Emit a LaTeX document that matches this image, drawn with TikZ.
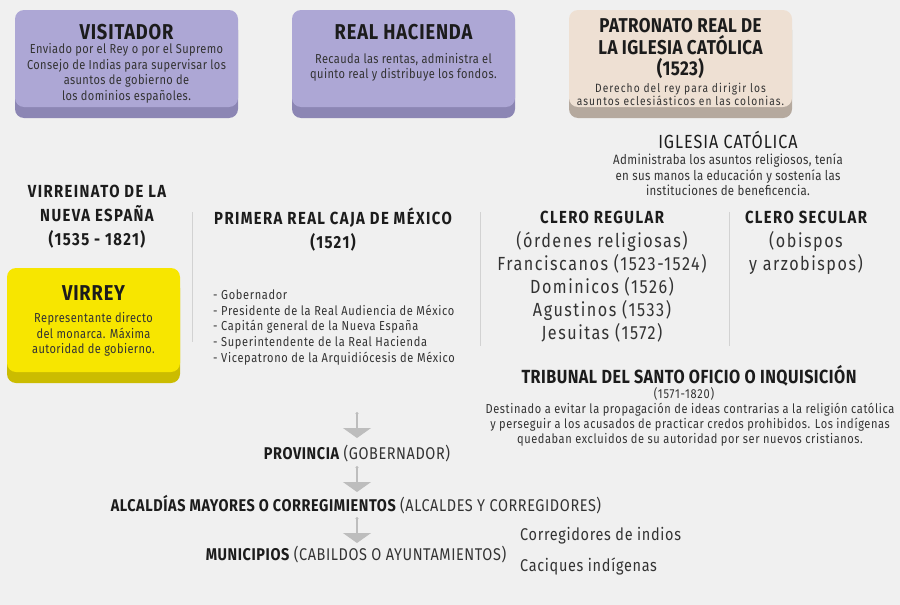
\documentclass[tikz,border=0pt]{standalone}
\usepackage{fontspec}
\setmainfont{Fira Sans}[FakeStretch=0.85]
\usetikzlibrary{shadows,arrows.meta}
\definecolor{bgc}{HTML}{F0F0F0}
\definecolor{lav}{HTML}{ADA7D5}
\definecolor{lavdk}{HTML}{8C86B4}
\definecolor{beige}{HTML}{EEE0D3}
\definecolor{beigedk}{HTML}{B5A99E}
\definecolor{yel}{HTML}{F7E600}
\definecolor{yeldk}{HTML}{CBBC00}
\definecolor{ink}{HTML}{1C1C1C}
\definecolor{txt}{HTML}{333333}
\definecolor{sep}{HTML}{D2D2D2}
\definecolor{arr}{HTML}{BDBDBD}
\newcommand\fBoxTtl{\fontsize{21.5}{22}\selectfont\bfseries\addfontfeature{LetterSpace=4}}
\newcommand\fPatTtl{\fontsize{20}{21.5}\selectfont\bfseries\addfontfeature{LetterSpace=2}}
\newcommand\fHead{\fontsize{17.5}{24}\selectfont\bfseries\addfontfeature{LetterSpace=8}}
\newcommand\fBody{\fontsize{13}{15.5}\selectfont\addfontfeature{LetterSpace=3}}
\newcommand\fPatBody{\fontsize{12}{13}\selectfont\addfontfeature{LetterSpace=9}}
\newcommand\fIgT{\fontsize{19}{20}\selectfont\addfontfeature{LetterSpace=5}}
\newcommand\fIgB{\fontsize{13.5}{15.5}\selectfont\addfontfeature{LetterSpace=2.5}}
\newcommand\fList{\fontsize{13}{15.75}\selectfont\addfontfeature{LetterSpace=5}}
\newcommand\fBig{\fontsize{19}{23}\selectfont\addfontfeature{LetterSpace=8}}
\newcommand\fTrT{\fontsize{19}{20}\selectfont\bfseries\addfontfeature{LetterSpace=2.5}}
\newcommand\fTrD{\fontsize{13}{14}\selectfont\addfontfeature{LetterSpace=6}}
\newcommand\fTrB{\fontsize{13}{15}\selectfont\addfontfeature{LetterSpace=4.5}}
\newcommand\fBot{\fontsize{17}{18}\selectfont\addfontfeature{LetterSpace=3.5}}
\newcommand\fSide{\fontsize{17}{18}\selectfont\addfontfeature{LetterSpace=4}}
\tikzset{
  card/.style={rounded corners=9pt, inner sep=0pt, draw=none},
  lavcard/.style={card, fill=lav, general shadow={fill=lavdk, shadow yshift=-11pt}},
  beigecard/.style={card, fill=beige, general shadow={fill=beigedk, shadow yshift=-11pt}},
  yelcard/.style={card, fill=yel, general shadow={fill=yeldk, shadow yshift=-11pt}},
  ttl/.style={inner sep=0pt, text=ink, font=\fBoxTtl, align=center},
  hd/.style={inner sep=0pt, text=ink, font=\fHead, align=center},
  bd/.style={inner sep=0pt, text=txt, font=\fBody, align=center},
  big/.style={inner sep=0pt, text=txt, font=\fBig, align=center},
  bot/.style={inner sep=0pt, text=txt, font=\fBot},
  sepline/.style={draw=sep, line width=0.8pt},
  conn/.style={draw=arr, line width=1.1pt, {Circle[length=3pt]}-{Triangle[width=28pt,length=10pt]}},
}
\begin{document}
\begin{tikzpicture}[x=1pt,y=-1pt]
\useasboundingbox[fill=bgc] (0,0) rectangle (900,605);
% cards
\node[lavcard, minimum width=223pt, minimum height=97pt] (visbox) at (126.5,58.5) {};
\node[lavcard, minimum width=223pt, minimum height=97pt] (rhbox) at (403.5,58.5) {};
\node[beigecard, minimum width=223pt, minimum height=97pt] (patbox) at (680.5,58.5) {};
\node[yelcard, minimum width=173pt, minimum height=104pt] (virbox) at (93.5,320) {};
% card texts
\node[ttl] (vist) at (126.5,32) {VISITADOR};
\node[bd] (visb) at (126.5,73.5) {Enviado por el Rey o por el Supremo\\Consejo de Indias para supervisar los\\asuntos de gobierno de\\los dominios españoles.};
\node[ttl] (rht) at (403.5,32) {REAL HACIENDA};
\node[bd] (rhb) at (403.5,67.5) {Recauda las rentas, administra el\\quinto real y distribuye los fondos.};
\node[ttl, font=\fPatTtl] (patt) at (680.5,48.5) {PATRONATO REAL DE\\LA IGLESIA CATÓLICA\\(1523)};
\node[bd, font=\fPatBody] (patb) at (680.5,94) {Derecho del rey para dirigir los\\asuntos eclesiásticos en las colonias.};
\node[ttl] (virt) at (93.5,293) {VIRREY};
\node[bd] (virb) at (93.5,334.5) {Representante directo\\del monarca. Máxima\\autoridad de gobierno.};
% Iglesia
\node[hd, font=\fIgT] (igt) at (728,140) {IGLESIA CATÓLICA};
\node[bd, font=\fIgB] (igb) at (728,175) {Administraba los asuntos religiosos, tenía\\en sus manos la educación y sostenía las\\instituciones de beneficencia.};
% Virreinato
\node[hd] (vnt) at (97,217) {VIRREINATO DE LA\\NUEVA ESPAÑA\\(1535 - 1821)};
% Primera Real Caja
\node[hd] (prc) at (333,229.5) {PRIMERA REAL CAJA DE MÉXICO\\(1521)};
\node[bd, font=\fList, align=left, anchor=west] (lst) at (213,327.5) {- Gobernador\\- Presidente de la Real Audiencia de México\\- Capitán general de la Nueva España\\- Superintendente de la Real Hacienda\\- Vicepatrono de la Arquidiócesis de México};
% separators
\coordinate (s1a) at (192,212); \coordinate (s1b) at (192,342);
\coordinate (s2a) at (480,212); \coordinate (s2b) at (480,346);
\coordinate (s3a) at (729,212); \coordinate (s3b) at (729,346);
\draw[sepline] (s1a) -- (s1b);
\draw[sepline] (s2a) -- (s2b);
\draw[sepline] (s3a) -- (s3b);
% Clero
\node[hd] (crt) at (602,217) {CLERO REGULAR};
\node[big] (crb) at (602,287) {(órdenes religiosas)\\Franciscanos (1523-1524)\\Dominicos (1526)\\Agustinos (1533)\\Jesuitas (1572)};
\node[hd] (cst) at (806,217) {CLERO SECULAR};
\node[big] (csb) at (806,252.5) {(obispos\\y arzobispos)};
% Tribunal
\node[hd, font=\fTrT] (trt) at (689,376) {TRIBUNAL DEL SANTO OFICIO O INQUISICIÓN};
\node[bd, font=\fTrD] (trd) at (684,394) {(1571-1820)};
\node[bd, font=\fTrB] (trb) at (690,425) {Destinado a evitar la propagación de ideas contrarias a la religión católica\\y perseguir a los acusados de practicar credos prohibidos. Los indígenas\\quedaban excluidos de su autoridad por ser nuevos cristianos.};
% bottom hierarchy
\node[bot] (prov) at (357,454) {\textbf{\color{ink}PROVINCIA} (GOBERNADOR)};
\node[bot] (alc) at (356,505) {\textbf{\color{ink}ALCALDÍAS MAYORES O CORREGIMIENTOS} (ALCALDES Y CORREGIDORES)};
\node[bot] (mun) at (356,555) {\textbf{\color{ink}MUNICIPIOS} (CABILDOS O AYUNTAMIENTOS)};
\node[bot, anchor=west, font=\fSide] (cor) at (520,536) {Corregidores de indios};
\node[bot, anchor=west, font=\fSide] (cac) at (520,566) {Caciques indígenas};
% arrows
\coordinate (a1s) at (357,412); \coordinate (a1e) at (357,438);
\coordinate (a2s) at (357,466); \coordinate (a2e) at (357,492);
\coordinate (a3s) at (357,517); \coordinate (a3e) at (357,543);
\draw[conn] (a1s) -- (a1e);
\draw[conn] (a2s) -- (a2e);
\draw[conn] (a3s) -- (a3e);
\end{tikzpicture}
\end{document}
